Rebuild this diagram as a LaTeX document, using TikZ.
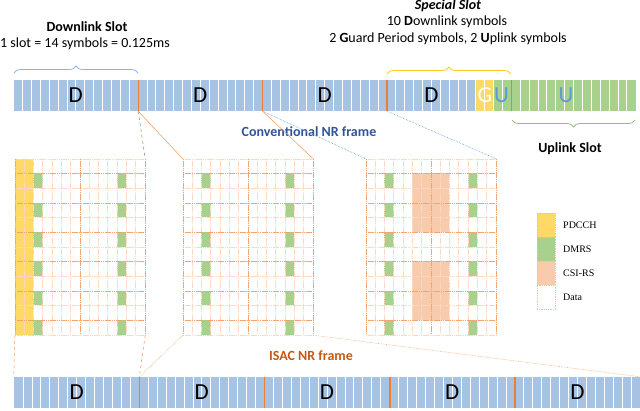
\documentclass[tikz,border=0pt]{standalone}
\usepackage{fontspec}
\setmainfont{Carlito}
\newfontfamily\legendfont{Liberation Serif}
\usepackage{xcolor}
\usetikzlibrary{positioning,decorations.pathreplacing}

\definecolor{dlblue}{HTML}{A6C3E4}
\definecolor{ulgreen}{HTML}{A9D18E}
\definecolor{gpyellow}{HTML}{FFD966}
\definecolor{nrorange}{HTML}{ED7D31}
\definecolor{csipink}{HTML}{F8CBAD}
\definecolor{convblue}{HTML}{2F5597}
\definecolor{isacbrown}{HTML}{C55A11}
\definecolor{ublue}{HTML}{5B9BD5}
\definecolor{gold}{HTML}{FFC000}

\begin{document}
\begin{tikzpicture}[x=1pt,y=-1pt,
  slotbox/.style={rectangle,minimum width=124.4pt,minimum height=31pt,inner sep=0pt},
  isacbox/.style={rectangle,minimum width=125.2pt,minimum height=31pt,inner sep=0pt,fill=dlblue},
  gridbox/.style={rectangle,minimum width=130pt,minimum height=176pt,inner sep=0pt},
  bigletter/.style={font=\fontsize{23}{23}\selectfont,inner sep=0pt},
  txt/.style={font=\fontsize{14}{16}\selectfont,inner sep=0pt},
  symline/.style={white,line width=0.7pt},
  slotsep/.style={nrorange,line width=1.4pt},
  gridln/.style={nrorange!30,dash pattern=on 1.5pt off 0.7pt,line width=0.45pt},
  gridbold/.style={nrorange!70,dash pattern=on 1.5pt off 0.7pt,line width=0.5pt},
  slotbrace/.style={decorate,decoration={brace,amplitude=7pt},line width=0.8pt},
  legbox/.style={rectangle,minimum width=18pt,minimum height=24pt,inner sep=0pt,draw=nrorange!50,densely dotted,line width=0.8pt},
  leglabel/.style={font=\legendfont\fontsize{10}{12}\selectfont,inner sep=0pt}]
\useasboundingbox (0,0) rectangle (640,410);
\def\sw{8.886}
\def\cw{9.286}
\def\rh{14.667}

% Conventional NR frame (top bar)
\foreach \i/\col in {1/dlblue,2/dlblue,3/dlblue,4/dlblue,5/ulgreen}
  \node[slotbox,fill=\col] (s\i) at ({75.8+(\i-1)*124.4},95.5) {};
\fill[gpyellow] (475.9,80) rectangle (493.7,111);
\fill[ulgreen] (493.7,80) rectangle (511.2,111);
\foreach \k in {1,...,69}
  \draw[symline] ({13.6+\k*\sw},80) -- ++(0,31);
\foreach \i in {1,...,4}
  \draw[slotsep] (s\i.north east) -- (s\i.south east);
\node[bigletter] (d1) at (s1) {D};
\node[bigletter] (d2) at (s2) {D};
\node[bigletter] (d3) at (s3) {D};
\node[bigletter] (d4) at (431.5,95.5) {D};
\node[bigletter,white] (gg) at (484.8,95.5) {G};
\node[bigletter,ublue] (u4) at (501.5,95.5) {U};
\node[bigletter,ublue] (u5) at (566,95.5) {U};

% Braces and slot labels
\draw[slotbrace,dlblue!90!blue] (14,73) -- (138,73);
\draw[slotbrace,gold!85] (387,74) -- (511,74);
\draw[slotbrace,ulgreen!90!black] (635,120) -- (512,120);
\node[txt,font=\fontsize{14}{16}\selectfont\bfseries] (dltitle) at (87,27) {Downlink Slot};
\node[txt] (dlsub) at (85,44) {1 slot = 14 symbols = 0.125ms};
\node[txt,font=\fontsize{14}{16}\selectfont\bfseries\itshape] (sptitle) at (448,6) {Special Slot};
\node[txt] (spline1) at (447,22) {10 \textbf{D}ownlink symbols};
\node[txt] (spline2) at (448,39) {2 \textbf{G}uard Period symbols, 2 \textbf{U}plink symbols};
\node[txt,font=\fontsize{14}{16}\selectfont\bfseries] (ultitle) at (570,149) {Uplink Slot};
\node[txt,font=\fontsize{14}{16}\selectfont\bfseries,convblue] (conv) at (309,132) {Conventional NR frame};

% Resource grids
\node[gridbox] (g1) at (80,247) {};
\node[gridbox] (g2) at (248,247) {};
\node[gridbox] (g3) at (431,247) {};

% PDCCH in grid 1
\begin{scope}[shift={(g1.north west)}]
  \fill[gpyellow] (0,0) rectangle (2*\cw,12*\rh);
\end{scope}
% CSI-RS in grid 3
\begin{scope}[shift={(g3.north west)}]
  \fill[csipink] (5*\cw,1*\rh) rectangle (9*\cw,5*\rh);
  \fill[csipink] (5*\cw,7*\rh) rectangle (9*\cw,11*\rh);
\end{scope}
% DMRS and grid lines
\foreach \g in {g1,g2,g3}{
  \begin{scope}[shift={(\g.north west)}]
    \foreach \r in {1,3,...,11}
      \foreach \c in {2,11}
        \fill[ulgreen] (\c*\cw,\r*\rh) rectangle ++(\cw,\rh);
    \foreach \c in {0,...,14}
      \draw[gridln] (\c*\cw,0) -- ++(0,12*\rh);
    \foreach \r in {0,2,...,12}
      \draw[gridln] (0,\r*\rh) -- ++(14*\cw,0);
    \foreach \r in {1,3,...,11}
      \draw[gridbold] (0,\r*\rh) -- ++(14*\cw,0);
    \foreach \c in {0,7,14}
      \draw[gridbold] (\c*\cw,0) -- ++(0,12*\rh);
  \end{scope}
}

% Zoom lines from the top bar
\draw[ulgreen!80!black,dashed,line width=0.6pt] (s1.south east) -- (g1.north east);
\draw[nrorange!80,line width=0.5pt] (s1.south east) -- (g2.north west);
\draw[nrorange!80,line width=0.5pt] (s2.south east) -- (g2.north east);
\draw[ublue,densely dotted,line width=0.6pt] (s2.south east) -- (g3.north west);
\draw[ublue,densely dotted,line width=0.6pt] (s3.south east) -- (g3.north east);

% ISAC NR frame (bottom bar)
\foreach \i in {1,...,5}
  \node[isacbox] (b\i) at ({76.6+(\i-1)*125.2},392.5) {};
\foreach \k in {1,...,69}
  \draw[symline] ({14+\k*8.943},377) -- ++(0,31);
\foreach \i in {1,...,4}
  \draw[slotsep] (b\i.north east) -- (b\i.south east);
\foreach \i in {1,...,5}
  \node[bigletter] (bd\i) at (b\i) {D};
\node[txt,font=\fontsize{14}{16}\selectfont\bfseries,isacbrown] (isac) at (311,356) {ISAC NR frame};

% Zoom lines to the bottom bar
\draw[nrorange!80,dashed,line width=0.5pt] (g1.south west) -- (b1.north west);
\draw[nrorange!80,dashed,line width=0.5pt] (g1.south east) -- (b1.north east);
\draw[nrorange!70,densely dotted,line width=0.6pt] (g2.south west) -- (b1.north east);
\draw[nrorange!70,densely dotted,line width=0.6pt] (g2.south east) -- (b5.north east);

% Legend
\foreach \col/\name [count=\k] in {gpyellow/PDCCH,ulgreen/DMRS,csipink/CSI-RS,white/Data}{
  \node[legbox,fill=\col] (leg\k) at (546,{225+(\k-1)*24}) {};
  \node[leglabel,anchor=west] (legtxt\k) at (563,{225+(\k-1)*24}) {\name};
}
\end{tikzpicture}
\end{document}
